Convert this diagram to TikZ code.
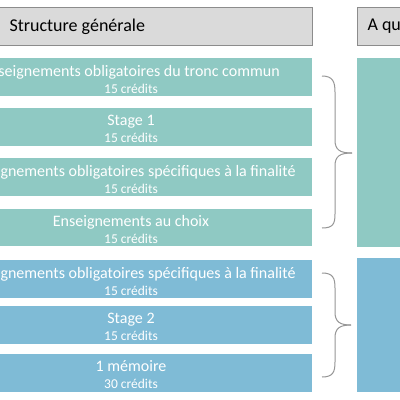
\documentclass[tikz,border=0pt]{standalone}
\usepackage{fontspec}
\setmainfont{Carlito}
\definecolor{teal1}{RGB}{143,201,195}
\definecolor{blue1}{RGB}{127,187,214}
\definecolor{hdrfill}{RGB}{218,218,218}
\definecolor{hdrline}{RGB}{140,140,140}
\definecolor{bracecol}{RGB}{150,150,150}
\tikzset{
  hdr/.style={draw=hdrline, line width=0.8pt, fill=hdrfill},
  hdrtext/.style={anchor=west, font=\fontsize{18}{21}\selectfont},
  tealbox/.style={fill=teal1},
  bluebox/.style={fill=blue1},
  boxtext/.style={text=white, align=center, inner sep=0pt, font=\fontsize{16}{18}\selectfont},
  brc/.style={draw=bracecol, line width=1pt}
}
\newcommand{\credits}[1]{\\[-1pt]{\fontsize{13.5}{15}\selectfont #1}}
\begin{document}
\begin{tikzpicture}[x=1pt,y=-1pt]
\useasboundingbox (0,0) rectangle (400,400);
\clip (0,0) rectangle (400,400);
\fill[white] (0,0) rectangle (400,400);
% headers
\draw[hdr] (-2,7) rectangle (312,45);
\node[hdrtext] (h1) at (6,26.5) {Structure générale};
\draw[hdr] (357,7) rectangle (410,45);
\node[hdrtext] (h2) at (364,26.5) {A que};
% teal boxes
\fill[tealbox] (-50,58) rectangle (312,96);
\node[boxtext] (b1) at (131,79) {Enseignements obligatoires du tronc commun\credits{15 crédits}};
\fill[tealbox] (-50,108) rectangle (312,146);
\node[boxtext] (b2) at (131,129) {Stage 1\credits{15 crédits}};
\fill[tealbox] (-50,158) rectangle (312,196);
\node[boxtext] (b3) at (131,179) {Enseignements obligatoires spécifiques à la finalité\credits{15 crédits}};
\fill[tealbox] (-50,209) rectangle (312,246);
\node[boxtext] (b4) at (131,229) {Enseignements au choix\credits{15 crédits}};
% blue boxes
\fill[bluebox] (-50,260) rectangle (312,298);
\node[boxtext] (b5) at (131,281) {Enseignements obligatoires spécifiques à la finalité\credits{15 crédits}};
\fill[bluebox] (-50,306) rectangle (312,344);
\node[boxtext] (b6) at (131,327) {Stage 2\credits{15 crédits}};
\fill[bluebox] (-50,354) rectangle (312,392);
\node[boxtext] (b7) at (131,375) {1 mémoire\credits{30 crédits}};
% right column
\fill[tealbox] (357,58) rectangle (410,247);
\fill[bluebox] (357,258) rectangle (410,392);
% braces
\draw[brc] (322,76) .. controls (333,76) and (335,82) .. (335,92)
  -- (335,140) .. controls (335,150) and (340,153) .. (352,153);
\draw[brc] (352,153) .. controls (340,153) and (335,156) .. (335,166)
  -- (335,214) .. controls (335,224) and (333,228) .. (322,228);
\draw[brc] (322,273) .. controls (333,273) and (335,278) .. (335,288)
  -- (335,312) .. controls (335,322) and (340,325) .. (351,325);
\draw[brc] (351,325) .. controls (340,325) and (335,328) .. (335,338)
  -- (335,362) .. controls (335,372) and (333,377) .. (322,377);
\end{tikzpicture}
\end{document}
